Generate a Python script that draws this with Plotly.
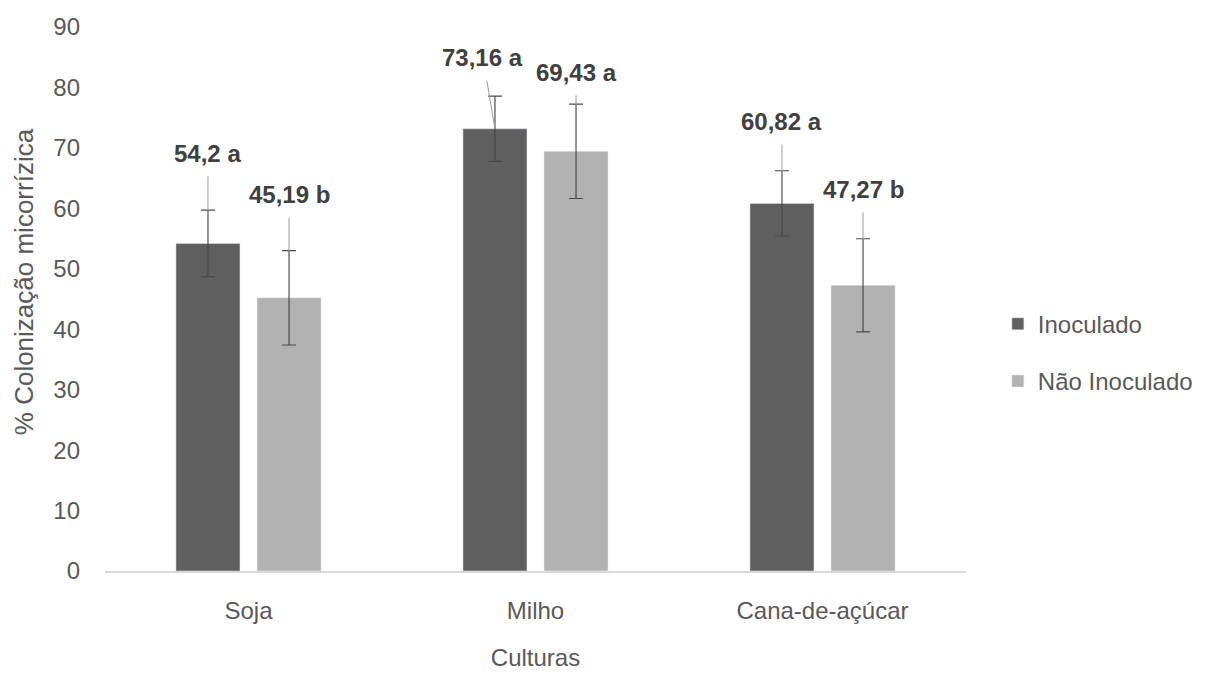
import plotly.graph_objects as go

# Cultures and colonization data (%)
culturas = ["Soja", "Milho", "Cana-de-açúcar"]
inoculado = [54.2, 73.16, 60.82]
nao_inoculado = [45.19, 69.43, 47.27]
erro_inoculado = [5.5, 5.4, 5.4]
erro_nao_inoculado = [7.8, 7.8, 7.7]
letras_inoculado = ["a", "a", "a"]
letras_nao_inoculado = ["b", "a", "b"]
y_ticks = [0, 10, 20, 30, 40, 50, 60, 70, 80, 90]

# Style / layout settings
COR_ESCURA = "#5f5f5f"
COR_CLARA = "#b2b2b2"
COR_TEXTO = "#595959"
COR_ROTULO = "#404040"
FONTE = "Liberation Sans, Arial, sans-serif"
BARGAP = 0.435
BARGROUPGAP = 0.21
# pixel offsets of the value labels relative to the bar tops
desloc_inoc = [(0, -90), (-12, -71), (0, -82)]
desloc_nao = [(0, -103), (0, -79), (0, -96)]


def fmt(v):
    return f"{v:g}".replace(".", ",")


fig = go.Figure()
fig.add_trace(go.Bar(
    name="Inoculado", x=culturas, y=inoculado, marker_color=COR_ESCURA,
    legendgroup="inoc",
    error_y=dict(type="data", array=erro_inoculado, color="#4a4a4a",
                 thickness=1.2, width=7),
))
fig.add_trace(go.Bar(
    name="Não Inoculado", x=culturas, y=nao_inoculado, marker_color=COR_CLARA,
    legendgroup="nao",
    error_y=dict(type="data", array=erro_nao_inoculado, color="#4a4a4a",
                 thickness=1.2, width=7),
))

# Value labels with leader lines pointing to the bar tops
slot = (1 - BARGAP) / 2
offsets = [-slot / 2, slot / 2]
series = [
    (inoculado, letras_inoculado, desloc_inoc, offsets[0]),
    (nao_inoculado, letras_nao_inoculado, desloc_nao, offsets[1]),
]
for valores, letras, desloc, off in series:
    for i, (v, l, (dx, dy)) in enumerate(zip(valores, letras, desloc)):
        fig.add_annotation(
            x=i + off, y=v, xref="x", yref="y",
            text=f"<b>{fmt(v)} {l}</b>",
            showarrow=True, arrowhead=0, arrowwidth=1, arrowcolor="#9a9a9a",
            ax=dx, ay=dy, standoff=0, startstandoff=8,
            font=dict(family=FONTE, size=24, color=COR_ROTULO),
        )

# Y-axis title, placed slightly above the plot's vertical centre
fig.add_annotation(
    text="% Colonização micorrízica", xref="paper", yref="paper",
    x=-0.094, y=0.531, xanchor="center", yanchor="middle",
    textangle=-90, showarrow=False,
    font=dict(family=FONTE, size=26, color=COR_TEXTO),
)

fig.update_layout(
    width=1212, height=675,
    margin=dict(l=105, r=246, t=27, b=104),
    paper_bgcolor="white", plot_bgcolor="white",
    barmode="group", bargap=BARGAP, bargroupgap=BARGROUPGAP,
    font=dict(family=FONTE, size=24, color=COR_TEXTO),
    showlegend=True,
    legend=dict(
        x=1.037, y=0.495, xanchor="left", yanchor="top",
        font=dict(family=FONTE, size=24, color=COR_TEXTO),
        tracegroupgap=23, bgcolor="rgba(0,0,0,0)",
    ),
)
fig.update_xaxes(
    showline=True, linecolor="#d9d9d9", linewidth=1.5,
    showgrid=False, ticks="", ticklabelstandoff=17, automargin=False,
    tickfont=dict(size=24, color=COR_TEXTO),
    title=dict(text="Culturas", standoff=27,
               font=dict(size=24, color=COR_TEXTO)),
)
fig.update_yaxes(
    range=[0, 90], tickvals=y_ticks, showgrid=False, zeroline=False,
    showline=False, ticks="", ticklabelstandoff=24, automargin=False,
    tickfont=dict(size=24, color=COR_TEXTO),
)

fig.write_html("out.html")
